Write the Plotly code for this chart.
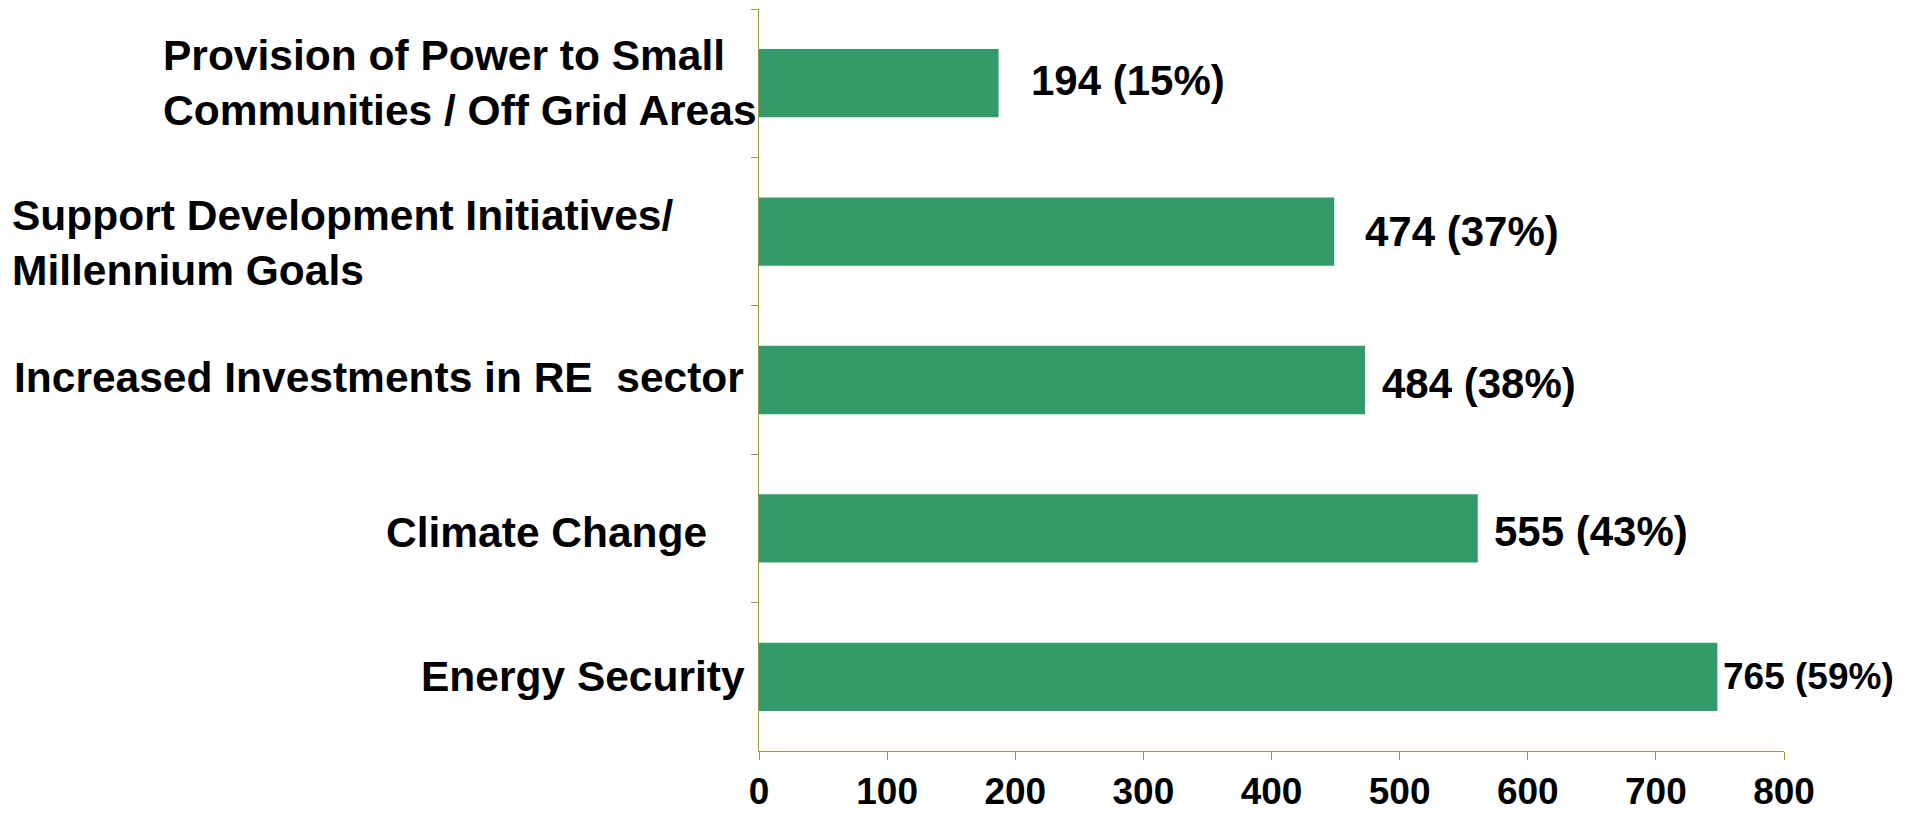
import plotly.graph_objects as go

# ---- data ----
categories = [
    "Provision of Power to Small<br>Communities / Off Grid Areas",
    "Support Development Initiatives/<br>Millennium Goals",
    "Increased Investments in RE\u00a0 sector",
    "Climate Change",
    "Energy Security",
]
bar_values = [187, 449, 473, 561, 748]
value_labels = ["194 (15%)", "474 (37%)", "484 (38%)", "555 (43%)", "765 (59%)"]
x_ticks = [0, 100, 200, 300, 400, 500, 600, 700, 800]

# ---- styles ----
FONT = "Liberation Sans, Arial, sans-serif"
AXIS = "#9A9A40"
BAR = "#359A6A"
W, H = 1918, 817
ML, MR, MT, MB = 759, 134, 9, 66

fig = go.Figure(
    go.Bar(
        x=bar_values,
        y=categories,
        orientation="h",
        marker=dict(color=BAR, line=dict(width=0)),
        width=0.46,
        hoverinfo="skip",
    )
)

# category label placement (pixel offset from the y axis, anchor, align, yshift)
cat_style = [
    (-598, "left", "left", 0),
    (-749, "left", "left", -11),
    (-13, "right", "right", 3),
    (-50, "right", "right", -4),
    (-12, "right", "right", 0),
]
annotations = []
for cat, (dx, anchor, align, ys) in zip(categories, cat_style):
    annotations.append(dict(
        xref="paper", yref="y", x=0, y=cat, xshift=dx, yshift=ys,
        text=cat, showarrow=False, xanchor=anchor, align=align, yanchor="middle",
        font=dict(family=FONT, size=42.5, color="black", weight="bold"),
    ))

# value labels next to bar ends
val_style = [(30, 42, 3), (29, 42, 0), (15, 42, -3), (14, 42, -3), (4, 37, 0)]
for cat, v, lab, (dx, fs, ys) in zip(categories, bar_values, value_labels, val_style):
    annotations.append(dict(
        xref="x", yref="y", x=v, y=cat, xshift=dx, yshift=ys,
        text=lab, showarrow=False, xanchor="left", yanchor="middle",
        font=dict(family=FONT, size=fs, color="black", weight="bold"),
    ))

fig.update_layout(
    width=W, height=H,
    margin=dict(l=ML, r=MR, t=MT, b=MB, pad=0, autoexpand=False),
    paper_bgcolor="white", plot_bgcolor="white",
    showlegend=False,
    annotations=annotations,
    xaxis=dict(
        range=[0, 800], tickmode="array", tickvals=x_ticks,
        ticktext=[str(t) for t in x_ticks],
        showgrid=False, zeroline=False,
        showline=True, linecolor=AXIS, linewidth=1,
        ticks="outside", ticklen=8, tickcolor=AXIS, tickwidth=1,
        tickfont=dict(family=FONT, size=37, color="black", weight="bold"),
        ticklabelstandoff=0,
        automargin=False,
        fixedrange=True,
    ),
    yaxis=dict(
        type="category", autorange="reversed",
        showgrid=False, zeroline=False,
        showline=True, linecolor=AXIS, linewidth=1,
        ticks="outside", tickson="boundaries", ticklen=7, tickcolor=AXIS, tickwidth=1,
        showticklabels=False,
        automargin=False,
        fixedrange=True,
    ),
)

fig.write_html("out.html", config={"displayModeBar": False})
